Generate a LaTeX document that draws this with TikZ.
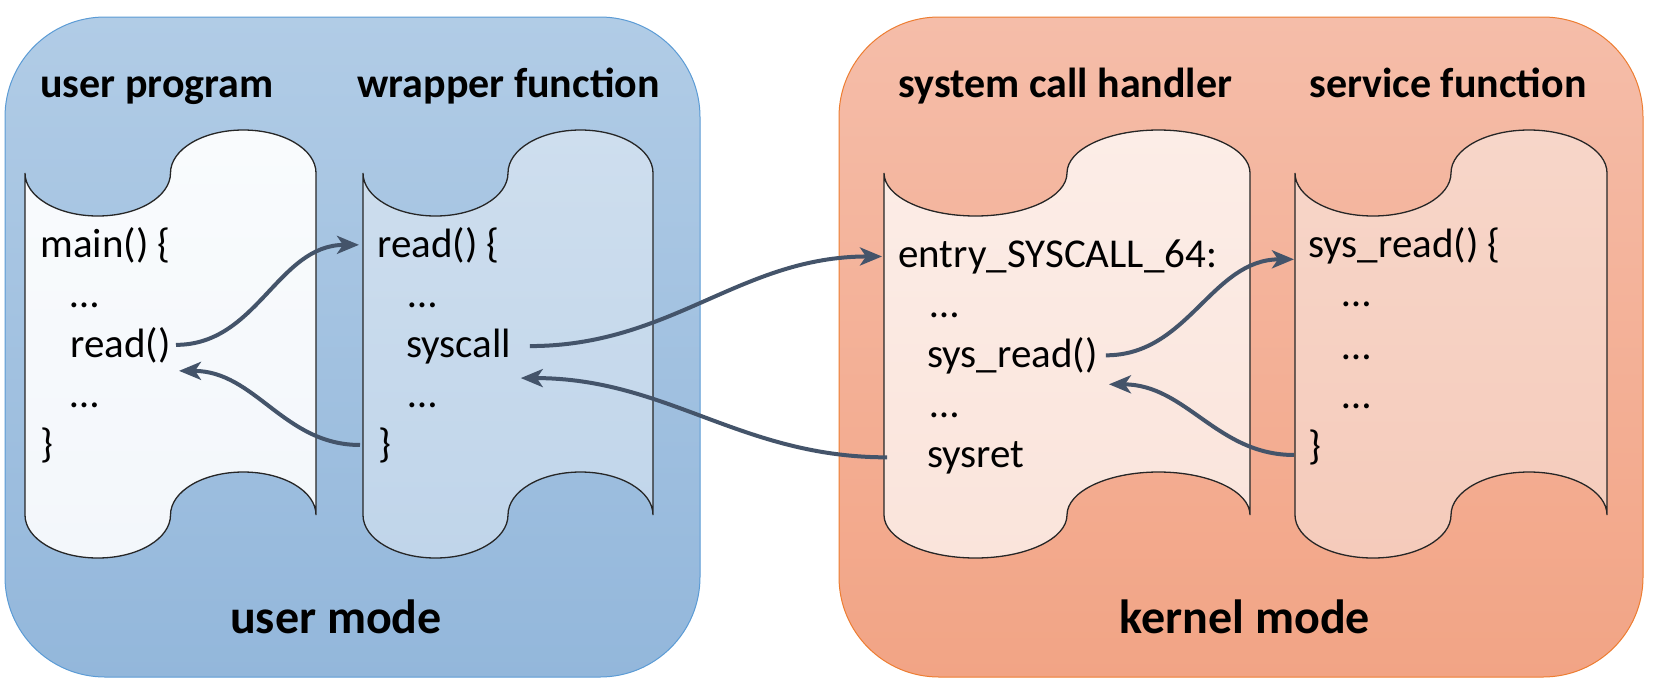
\documentclass[tikz,border=0pt]{standalone}
\usepackage{fontspec}
\setmainfont{Carlito}
\usetikzlibrary{arrows.meta}

\definecolor{usrtop}{HTML}{B1CCE6}
\definecolor{usrbot}{HTML}{93B7DB}
\definecolor{usrline}{HTML}{5B9BD5}
\definecolor{kertop}{HTML}{F5BDA9}
\definecolor{kerbot}{HTML}{F2A485}
\definecolor{kerline}{HTML}{ED7D31}
\definecolor{progtop}{HTML}{F9FBFD}
\definecolor{progbot}{HTML}{F3F7FB}
\definecolor{wraptop}{HTML}{CEDEEE}
\definecolor{wrapbot}{HTML}{C0D5EA}
\definecolor{handtop}{HTML}{FCEDE7}
\definecolor{handbot}{HTML}{FAE4DB}
\definecolor{servtop}{HTML}{F7D6C9}
\definecolor{servbot}{HTML}{F5CBBB}
\definecolor{arrowgray}{HTML}{44546A}

% left x, right x, x radius of the curls, style
\newcommand{\codescroll}[4]{%
  \draw[#4] (#1,173) arc[start angle=180,end angle=0,x radius=#3,y radius=43]
    arc[start angle=180,end angle=360,x radius=#3,y radius=43]
    -- (#2,515)
    arc[start angle=0,end angle=-180,x radius=#3,y radius=43]
    arc[start angle=0,end angle=180,x radius=#3,y radius=43]
    -- cycle;}

\begin{document}
\begin{tikzpicture}
[x=0.5pt,y=-0.5pt,
 userbox/.style={draw=usrline,line width=0.5pt,rounded corners=50pt,top color=usrtop,bottom color=usrbot},
 kernbox/.style={draw=kerline,line width=0.5pt,rounded corners=50pt,top color=kertop,bottom color=kerbot},
 scrollline/.style={draw=black!85,line width=0.65pt},
 title/.style={anchor=base west,inner sep=0pt,font=\fontsize{21}{25}\bfseries},
 modelabel/.style={anchor=base,inner sep=0pt,font=\fontsize{24}{29}\bfseries},
 code/.style={anchor=base west,inner sep=0pt,font=\fontsize{20.5}{24}\selectfont},
 callarrow/.style={-{Stealth[length=11pt,width=9pt,inset=3pt]},line width=2pt,draw=arrowgray}]
\useasboundingbox (0,0) rectangle (1660,692);

% the two modes
\draw[userbox] (5,17) rectangle (700,677);
\draw[kernbox] (839,17) rectangle (1643,677);

\node[title] (tprog) at (40,97) {user program};
\node[title] (twrap) at (357,97) {wrapper function};
\node[title] (thandler) at (898,97) {system call handler};
\node[title] (tservice) at (1309,97) {service function};
\node[modelabel] (tuser) at (336,633) {user mode};
\node[modelabel] (tkernel) at (1245,633) {kernel mode};

% scrolls
\codescroll{25}{316}{72.75}{scrollline,top color=progtop,bottom color=progbot}
\codescroll{363}{653}{72.5}{scrollline,top color=wraptop,bottom color=wrapbot}
\codescroll{884}{1250}{91.5}{scrollline,top color=handtop,bottom color=handbot}
\codescroll{1295}{1607}{78}{scrollline,top color=servtop,bottom color=servbot}

% code lines
\node[code] (main) at (40,257) {main() \{};
\node[code] (m1) at (70,307) {…};
\node[code] (mread) at (70,357) {read()};
\node[code] (m2) at (70,407) {…};
\node[code] (mend) at (40,457) {\}};

\node[code] (wread) at (377,257) {read() \{};
\node[code] (w1) at (408,307) {…};
\node[code] (wsys) at (406,357) {syscall};
\node[code] (w2) at (408,407) {…};
\node[code] (wend) at (378,457) {\}};

\node[code] (entry) at (898,267) {entry\_SYSCALL\_64:};
\node[code] (h1) at (930,317) {…};
\node[code] (hsys) at (927,367) {sys\_read()};
\node[code] (h2) at (930,417) {…};
\node[code] (hret) at (927,467) {sysret};

\node[code] (sread) at (1308,257) {sys\_read() \{};
\node[code] (s1) at (1342,306) {…};
\node[code] (s2) at (1342,359) {…};
\node[code] (s3) at (1342,408) {…};
\node[code] (send) at (1308,459) {\}};

% calls and returns
\draw[callarrow] ([xshift=2.5pt]mread.east) to[out=0,in=180] ([xshift=-9pt]wread.west);
\draw[callarrow] ([xshift=-9pt]wend.west) to[out=180,in=0] ([xshift=4pt,yshift=-13pt]mread.east);
\draw[callarrow] ([xshift=9pt]wsys.east) to[out=0,in=180] ([xshift=-8pt]entry.west);
\draw[callarrow] ([xshift=-20pt]hret.west) to[out=180,in=0] ([xshift=4.5pt,yshift=-16pt]wsys.east);
\draw[callarrow] ([xshift=4pt]hsys.east) to[out=0,in=180] ([xshift=-7pt,yshift=-7pt]sread.west);
\draw[callarrow] ([xshift=-7pt,yshift=-4pt]send.west) to[out=180,in=0] ([xshift=5.5pt,yshift=-14.5pt]hsys.east);
\end{tikzpicture}
\end{document}
